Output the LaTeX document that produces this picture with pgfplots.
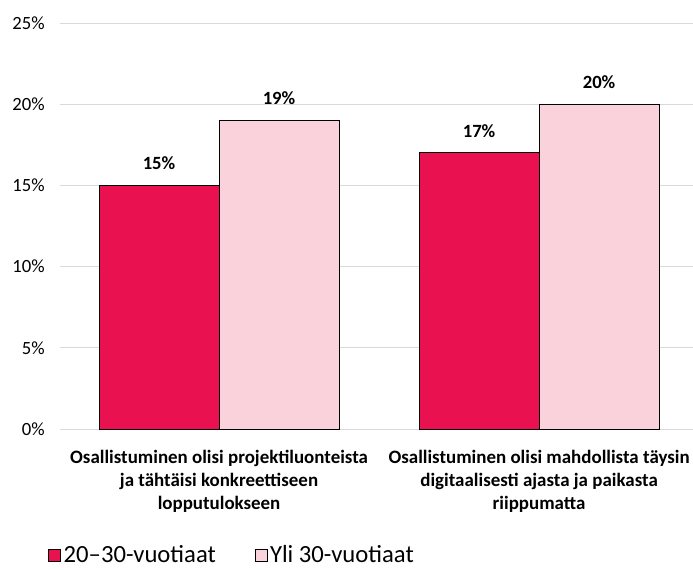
\documentclass[border=0pt]{standalone}
\usepackage{fontspec}
\setmainfont{Carlito}
\usepackage{pgfplots}
\pgfplotsset{compat=1.18}
\definecolor{young}{RGB}{234,17,80}
\definecolor{old}{RGB}{250,210,220}
\definecolor{gridgray}{RGB}{217,217,217}

\begin{document}
\begin{tikzpicture}
\useasboundingbox (-45pt,-105pt) rectangle (474.75pt,321.75pt);
\begin{axis}[
  scale only axis,
  width=474.75pt, height=304.5pt,
  ybar=0pt, bar width=90pt,
  xmin=-0.497, xmax=1.481, ymin=0, ymax=25,
  xtick={0,1},
  xticklabels={{Osallistuminen olisi projektiluonteista\\ja tähtäisi konkreettiseen\\lopputulokseen},
               {Osallistuminen olisi mahdollista täysin\\digitaalisesti ajasta ja paikasta\\riippumatta}},
  xticklabel style={font=\bfseries\fontsize{14.2}{17.25}\selectfont, align=center, yshift=-12pt},
  ytick={0,5,...,25},
  yticklabel={\pgfmathprintnumber{\tick}\%},
  yticklabel style={font=\fontsize{14}{17}\selectfont, xshift=-8pt},
  /pgf/number format/assume math mode=true,
  ymajorgrids,
  major grid style={draw=gridgray, line width=0.75pt},
  axis line style={draw=none},
  major tick length=0pt,
  nodes near coords={\pgfmathprintnumber{\pgfplotspointmeta}\%},
  nodes near coords style={font=\bfseries\fontsize{14}{17}\selectfont, yshift=8pt},
  legend columns=2,
  legend style={draw=none, at={(0,0)}, anchor=west, xshift=-9pt, yshift=-94.5pt,
                inner sep=0pt, font=\fontsize{18.5}{21}\selectfont,
                /tikz/every even column/.append style={column sep=27pt}},
  legend cell align=left,
  clip=false,
]
\addplot[draw=black, fill=young, line width=0.75pt,
  legend image code/.code={\draw[draw=black, fill=young, line width=0.6pt] (0pt,-4.5pt) rectangle (9pt,4.5pt);}]
  coordinates {(0,15) (1,17)};
\addlegendentry{20–30-vuotiaat}
\addplot[draw=black, fill=old, line width=0.75pt,
  legend image code/.code={\draw[draw=black, fill=old, line width=0.6pt] (0pt,-4.5pt) rectangle (9pt,4.5pt);}]
  coordinates {(0,19) (1,20)};
\addlegendentry{Yli 30-vuotiaat}
\end{axis}
\end{tikzpicture}
\end{document}
